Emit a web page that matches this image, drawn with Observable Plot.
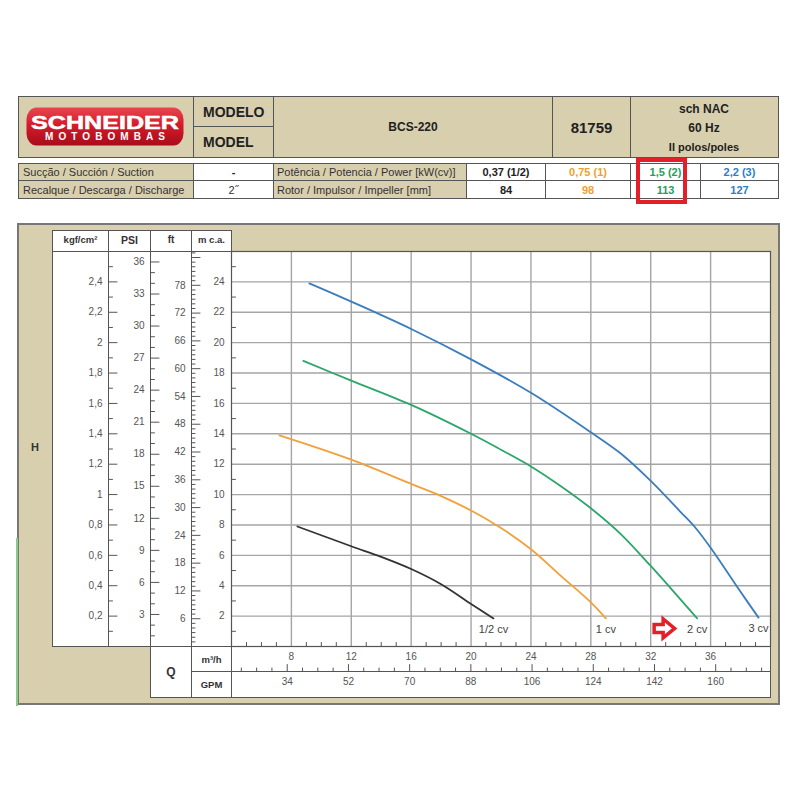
<!DOCTYPE html>
<html><head><meta charset="utf-8">
<script src="https://cdn.jsdelivr.net/npm/d3@7"></script>
<script src="https://cdn.jsdelivr.net/npm/@observablehq/plot@0.6"></script>
<style>
body{margin:0;background:#fff;font-family:"Liberation Sans",Arial,sans-serif;}
#root{position:relative;width:800px;height:800px;overflow:hidden;background:#fff;}
.abs{position:absolute;box-sizing:border-box;}
.cell{position:absolute;box-sizing:border-box;border:1px solid #555;display:flex;align-items:center;justify-content:center;color:#222;white-space:nowrap;}
</style></head><body><div id="root"></div>
<script>
// ---------------- data ----------------
const modelName = "BCS-220";
const modelCode = "81759";
const specLines = ["sch NAC", "60 Hz", "II polos/poles"];
const rowLabels = ["Sucção / Succión / Suction", "Recalque / Descarga / Discharge"];
const rowValues = ["-", "2˝"];
const specLabels = ["Potência / Potencia / Power [kW(cv)]", "Rotor / Impulsor / Impeller [mm]"];
const powerLabels = ["0,37 (1/2)", "0,75 (1)", "1,5 (2)", "2,2 (3)"];
const impellerMm = ["84", "98", "113", "127"];
const seriesColors = ["#333333", "#f2a13a", "#2ca66a", "#3a7dbf"];
const headerColors = ["#222222", "#f0a030", "#22a05a", "#2a80c4"];
const curveLabels = ["1/2 cv", "1 cv", "2 cv", "3 cv"];

// H (m c.a.) versus Q (m³/h)
const curveHalf  = [[8.4,7.9],[12,6.6],[14,5.9],[16,5.1],[18,4.1],[20,2.8],[21.5,1.85]];
const curveOne   = [[7.2,13.9],[12,12.3],[16,10.7],[18,9.9],[20,8.95],[22,7.8],[24,6.4],[26,4.65],[28,2.9],[29,1.85]];
const curveTwo   = [[8.8,18.8],[12,17.5],[16,15.9],[20,14.0],[22,12.95],[24,11.85],[26,10.55],[28,9.1],[30,7.4],[32,5.3],[33.5,3.65],[35.1,1.85]];
const curveThree = [[9.2,23.9],[12,22.7],[16,20.9],[20,18.9],[24,16.7],[28,14.1],[30,12.7],[32,10.9],[34,8.85],[35,7.8],[36,6.5],[38,3.6],[39.2,1.9]];

// axes
const mcaLabels = [2,4,6,8,10,12,14,16,18,20,22,24];
const mcaMinor = [1,3,5,7,9,11,13,15,17,19,21,23,25];
const kgfValues = [0.2,0.4,0.6,0.8,1.0,1.2,1.4,1.6,1.8,2.0,2.2,2.4];
const kgfLabels = ["0,2","0,4","0,6","0,8","1","1,2","1,4","1,6","1,8","2","2,2","2,4"];
const kgfMinor = [0.1,0.3,0.5,0.7,0.9,1.1,1.3,1.5,1.7,1.9,2.1,2.3,2.5];
const psiLabels = [3,6,9,12,15,18,21,24,27,30,33,36];
const psiMinor = d3.range(1, 37).filter(v => v % 3 !== 0);
const ftLabels = [6,12,18,24,30,36,42,48,54,60,66,72,78];
const ftMajor = [6,12,18,24,30,36,42,48,54,60,66,72,78,84];
const ftMinor = d3.range(1, 86).filter(v => v % 6 !== 0);
const qLabels = [8,12,16,20,24,28,32,36];
const qMinor = d3.range(5, 40).filter(v => v % 4 !== 0);
const gpmLabels = [34,52,70,88,106,124,142,160];
const gpmMinor = [20.5,25,29.5,38.5,43,47.5,56.5,61,65.5,74.5,79,83.5,92.5,97,101.5,110.5,115,119.5,128.5,133,137.5,146.5,151,155.5,164.5,169,173.5];

const M_PER_KGF = 10, M_PER_PSI = 0.70307, M_PER_FT = 0.3048, GPM_PER_M3H = 4.40287;

// ---------------- layout (HTML frame) ----------------
const BEIGE = "#d8cfae";
const FONT = '"Liberation Sans", Arial, sans-serif';
const root = document.getElementById("root");
function cell(x0, y0, x1, y1, bg, html, st = {}) {
  const d = document.createElement("div");
  d.className = "cell";
  Object.assign(d.style, {left: x0 + "px", top: y0 + "px", width: (x1 - x0 + 1) + "px", height: (y1 - y0 + 1) + "px", background: bg}, st);
  d.innerHTML = html;
  root.appendChild(d);
  return d;
}
function abs(x0, y0, w, h, html, st = {}) {
  const d = document.createElement("div");
  d.className = "abs";
  Object.assign(d.style, {left: x0 + "px", top: y0 + "px", width: w + "px", height: h + "px"}, st);
  d.innerHTML = html;
  root.appendChild(d);
  return d;
}
const bold = (size, color = "#222") => ({fontWeight: "bold", fontSize: size + "px", color});

// header row 1
cell(18, 96, 193, 157, BEIGE, "");
cell(193, 96, 273, 126, BEIGE, "MODELO", {...bold(14), justifyContent: "flex-start", paddingLeft: "9px"});
cell(193, 126, 273, 157, BEIGE, "MODEL", {...bold(14), justifyContent: "flex-start", paddingLeft: "9px"});
cell(273, 96, 552, 157, BEIGE, modelName, bold(12));
cell(552, 96, 630, 157, BEIGE, modelCode, bold(15));
cell(630, 96, 778, 157, BEIGE, "");
[[109, 12], [128, 12], [147, 11]].forEach(([yc, fs], i) => {
  abs(631, yc - 9, 146, 18, specLines[i], {...bold(fs), display: "flex", alignItems: "center", justifyContent: "center"});
});
// logo
abs(26, 107, 158, 39, `<svg width="158" height="39" viewBox="0 0 158 39">
<defs><linearGradient id="lg" x1="0" y1="0" x2="0" y2="1"><stop offset="0" stop-color="#ea4550"/><stop offset="0.45" stop-color="#d41c2b"/><stop offset="1" stop-color="#a80c1a"/></linearGradient></defs>
<rect x="0.5" y="0.5" width="157" height="38" rx="10" ry="12" fill="url(#lg)"/>
<text x="79" y="21.5" text-anchor="middle" font-family="Liberation Sans, Arial" font-weight="bold" font-size="17.5" fill="#fff" stroke="#fff" stroke-width="0.5" textLength="148" lengthAdjust="spacingAndGlyphs">SCHNEIDER</text>
<text x="79" y="33" text-anchor="middle" font-family="Liberation Sans, Arial" font-weight="bold" font-size="10" fill="#fff" textLength="120" lengthAdjust="spacing">MOTOBOMBAS</text>
</svg>`);

// header rows 2-3
const rowsY = [[163, 180], [180, 198]];
const valCols = [[466, 545], [545, 630], [630, 700], [700, 778]];
rowsY.forEach(([y0, y1], r) => {
  cell(18, y0, 193, y1, BEIGE, rowLabels[r], {fontSize: "11px", color: "#333", justifyContent: "flex-start", paddingLeft: "4px"});
  cell(193, y0, 273, y1, "#fff", rowValues[r], r === 0 ? bold(11) : {fontSize: "11px", color: "#333"});
  cell(273, y0, 466, y1, BEIGE, specLabels[r], {fontSize: "11px", color: "#333", justifyContent: "flex-start", paddingLeft: "3px"});
  valCols.forEach(([x0, x1], i) => {
    cell(x0, y0, x1, y1, "#fff", r === 0 ? powerLabels[i] : impellerMm[i], bold(11, headerColors[i]));
  });
});
// highlight box
abs(636, 158, 51, 46, "", {border: "4px solid #e3202a"});

// chart panel
abs(17, 223, 763, 482, "", {background: BEIGE, border: "2px solid #777"});
abs(16, 538, 2, 168, "", {background: "#86cc86"});
const leftCols = [[52, 108], [108, 150], [150, 191], [191, 231]];
const leftHead = [["kgf/cm²", 9.5], ["PSI", 10.5], ["ft", 10], ["m c.a.", 9.5]];
leftCols.forEach(([x0, x1], i) => {
  cell(x0, 230, x1, 251, "#fff", leftHead[i][0], {...bold(leftHead[i][1], "#333"), alignItems: "flex-start", paddingTop: "3px"});
  cell(x0, 251, x1, 646, "#fff", "");
});
cell(231, 251, 770, 646, "#fff", "");
// Q table
cell(150, 646, 191, 697, "#fff", "Q", bold(12, "#333"));
cell(191, 646, 231, 671, "#fff", "m³/h", bold(9.5, "#333"));
cell(191, 671, 231, 697, "#fff", "GPM", bold(9.5, "#333"));
cell(231, 646, 770, 671, "#fff", "");
cell(231, 671, 770, 697, "#fff", "");
abs(25, 438, 20, 18, "H", {...bold(11, "#333"), display: "flex", alignItems: "center", justifyContent: "center"});

// ---------------- plot ----------------
const curves = [curveHalf, curveOne, curveTwo, curveThree].map((points, i) => ({points, label: curveLabels[i], color: seriesColors[i]}));
const tickShape = {draw(ctx, l) { ctx.moveTo(0, 0); ctx.lineTo(0, -l); }};
const TICK = "#555";
function ticksLeft(values, toM, dx, len) {
  return Plot.vector(values, {y: d => d * toM, frameAnchor: "left", dx, length: len, rotate: 90, anchor: "start", shape: tickShape, stroke: TICK, strokeWidth: 1});
}
function labelsLeft(values, labels, toM, dx) {
  return Plot.text(values, {y: d => d * toM, text: (d, i) => String(labels[i]), frameAnchor: "left", dx, textAnchor: "end", fontSize: 10, fill: "#555"});
}
const arrowSymbol = {draw(ctx, size) {
  const s = Math.sqrt(size / Math.PI) / 10;
  const pts = [[-10, -4], [-1, -4], [-1, -9.5], [10.5, 0], [-1, 9.5], [-1, 4], [-10, 4]];
  pts.forEach(([x, y], i) => i ? ctx.lineTo(x * s, y * s) : ctx.moveTo(x * s, y * s));
  ctx.closePath();
}};
const last = c => c.points[c.points.length - 1];

const chart = Plot.plot({
  width: 800, height: 720,
  marginLeft: 231, marginRight: 30, marginTop: 251, marginBottom: 74,
  x: {domain: [4, 40]},
  y: {domain: [0, 26]},
  style: {background: "none", fontFamily: FONT, fontSize: "10px", overflow: "visible", maxWidth: "none"},
  marks: [
    Plot.ruleY(mcaLabels, {stroke: "#a5a5a5", strokeWidth: 1.4}),
    Plot.ruleX(qLabels, {stroke: "#a5a5a5", strokeWidth: 1.4}),
    Plot.frame({stroke: "#555", strokeWidth: 1.2}),
    // m c.a.
    ticksLeft(mcaMinor, 1, 0, 4),
    Plot.axisY(mcaLabels, {anchor: "left", tickSize: 0, tickPadding: 7, fontSize: 10, fill: "#555", label: null}),
    // kgf/cm²
    ticksLeft(kgfMinor, M_PER_KGF, -123, 4),
    ticksLeft(kgfValues, M_PER_KGF, -123, 8.5),
    labelsLeft(kgfValues, kgfLabels, M_PER_KGF, -129),
    // PSI
    ticksLeft(psiMinor, M_PER_PSI, -81, 4),
    ticksLeft(psiLabels, M_PER_PSI, -81, 8.5),
    labelsLeft(psiLabels, psiLabels, M_PER_PSI, -87),
    // ft
    ticksLeft(ftMinor, M_PER_FT, -40, 3.5),
    ticksLeft(ftMajor, M_PER_FT, -40, 8.5),
    labelsLeft(ftLabels, ftLabels, M_PER_FT, -46),
    // Q m³/h
    Plot.vector(qMinor, {x: d => d, frameAnchor: "bottom", length: 4, rotate: 0, anchor: "start", shape: tickShape, stroke: TICK, strokeWidth: 1}),
    Plot.axisX(qLabels, {anchor: "bottom", tickSize: 0, tickPadding: 6, fontSize: 10, fill: "#555", label: null}),
    // GPM
    Plot.vector(gpmMinor, {x: d => d / GPM_PER_M3H, frameAnchor: "bottom", dy: 25, length: 3.5, rotate: 0, anchor: "start", shape: tickShape, stroke: TICK, strokeWidth: 1}),
    Plot.vector(gpmLabels, {x: d => d / GPM_PER_M3H, frameAnchor: "bottom", dy: 25, length: 7, rotate: 0, anchor: "start", shape: tickShape, stroke: TICK, strokeWidth: 1}),
    Plot.text(gpmLabels, {x: d => d / GPM_PER_M3H, text: d => String(d), frameAnchor: "bottom", dy: 38, fontSize: 10, fill: "#555"}),
    // curves
    ...curves.map(c => Plot.line(c.points, {x: d => d[0], y: d => d[1], stroke: c.color, strokeWidth: 1.8, curve: "catmull-rom"})),
    Plot.text(curves, {x: c => last(c)[0], y: c => last(c)[1], text: "label", dy: 11, fontSize: 11, fill: "#444"}),
    Plot.dot([curves[2]], {x: c => last(c)[0], y: c => last(c)[1], dx: -33, dy: 10, symbol: arrowSymbol, r: 10, fill: "#fff", stroke: "#e3202a", strokeWidth: 3.5})
  ]
});
const wrap = abs(0, 0, 800, 720, "");
wrap.appendChild(chart);
</script></body></html>
